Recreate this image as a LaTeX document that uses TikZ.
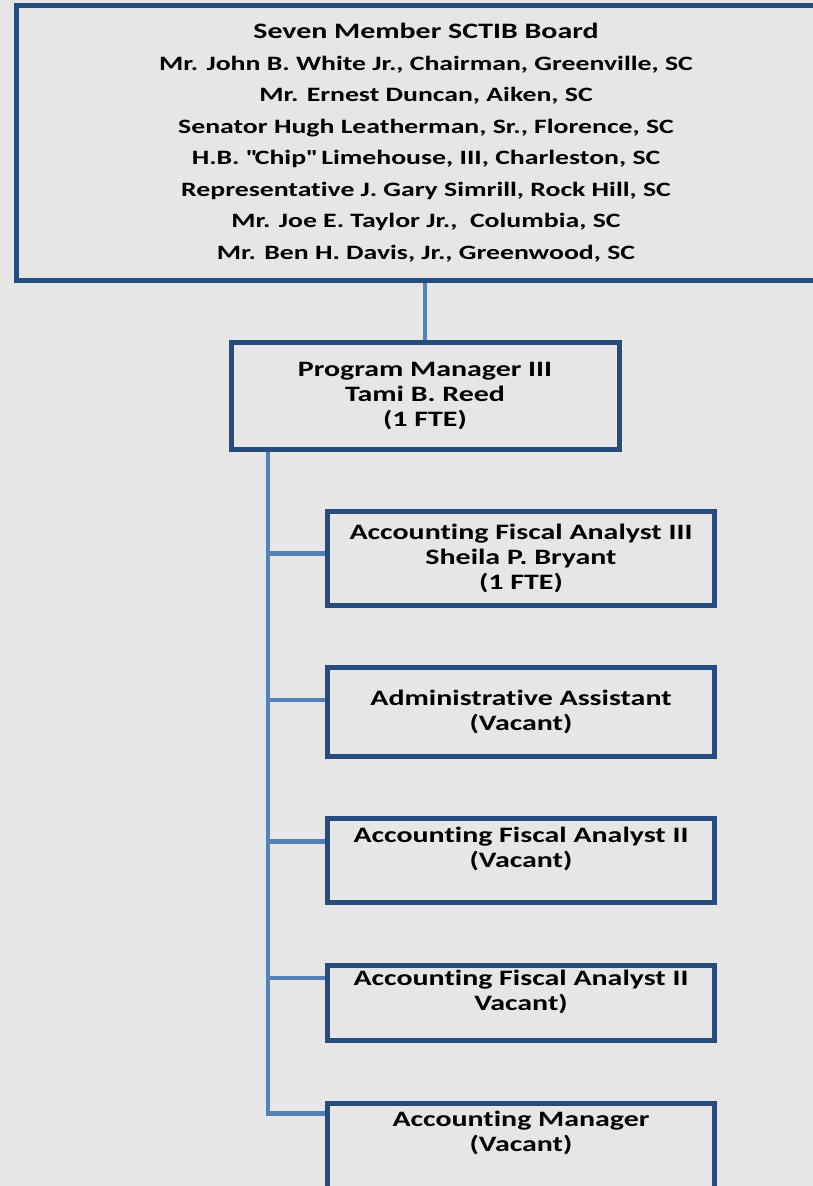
\documentclass[tikz,border=0pt]{standalone}
\usepackage{fontspec}
\setmainfont{Carlito}[FakeStretch=1.36, Ligatures=NoCommon]
\definecolor{boardblue}{HTML}{264B7E}
\definecolor{linkblue}{HTML}{5581B9}
\definecolor{bggray}{HTML}{E6E6E6}

\begin{document}
\begin{tikzpicture}[x=1pt, y=-1pt,
	box/.style={draw=boardblue, line width=5pt, align=center, inner sep=0pt, font=\fontsize{22}{25}\selectfont\bfseries},
	subbox/.style={box, minimum width=387.5pt},
	link/.style={draw=linkblue, line width=4.5pt}]
		\useasboundingbox (0,0) rectangle (813,1186);
		\fill[bggray] (0,0) rectangle (813,1186);
		\clip (0,0) rectangle (813,1186);
		\node[box, minimum width=820pt, minimum height=275pt, font=\fontsize{20.4}{31.5}\selectfont\bfseries] (board) at (426,142.5)
			{{\fontsize{22}{31.5}\selectfont Seven Member SCTIB Board}\\
			Mr. John B. White Jr., Chairman, Greenville, SC\\
			Mr. Ernest Duncan, Aiken, SC\\
			Senator Hugh Leatherman, Sr., Florence, SC\\
			H.B. \textquotedbl Chip\textquotedbl{} Limehouse, III, Charleston, SC\\
			Representative J. Gary Simrill, Rock Hill, SC\\
			Mr. Joe E. Taylor Jr.,~ Columbia, SC\\
			Mr. Ben H. Davis, Jr., Greenwood, SC};
		\node[box, minimum width=388pt, minimum height=106.5pt] (pm) at (425,396) {Program Manager III\\Tami B. Reed\\(1 FTE)};
		\node[subbox, minimum height=94pt] (b1) at (521,558.5) {Accounting Fiscal Analyst III\\Sheila P. Bryant\\(1 FTE)};
		\node[subbox, minimum height=89pt] (b2) at (521,712) {Administrative Assistant\\(Vacant)};
		\node[subbox, minimum height=84pt] (b3) at (521,860) {Accounting Fiscal Analyst II\\(Vacant)\\[-8pt]\strut};
		\node[subbox, minimum height=75pt] (b4) at (521,1002.5) {Accounting Fiscal Analyst II\\Vacant)\\[-8pt]\strut};
		\node[subbox, minimum height=104pt] (b5) at (521,1155.5) {Accounting Manager\\(Vacant)\\\strut\\[-10pt]\strut};
		\draw[link] (pm.north |- board.south) -- (pm.north);
		\coordinate (trunk) at ([xshift=39.5pt]pm.south west);
		\coordinate (j5) at ([yshift=-12.5pt]b5.north west);
		\draw[link] (trunk) |- (j5);
		\foreach \b/\d in {b1/44.5,b2/35,b3/26,b4/15.5}{
			\coordinate (j\b) at ([yshift=-\d pt]\b.north west);
			\draw[link] (trunk |- j\b) -- (j\b);
		}
	\end{tikzpicture}
\end{document}
